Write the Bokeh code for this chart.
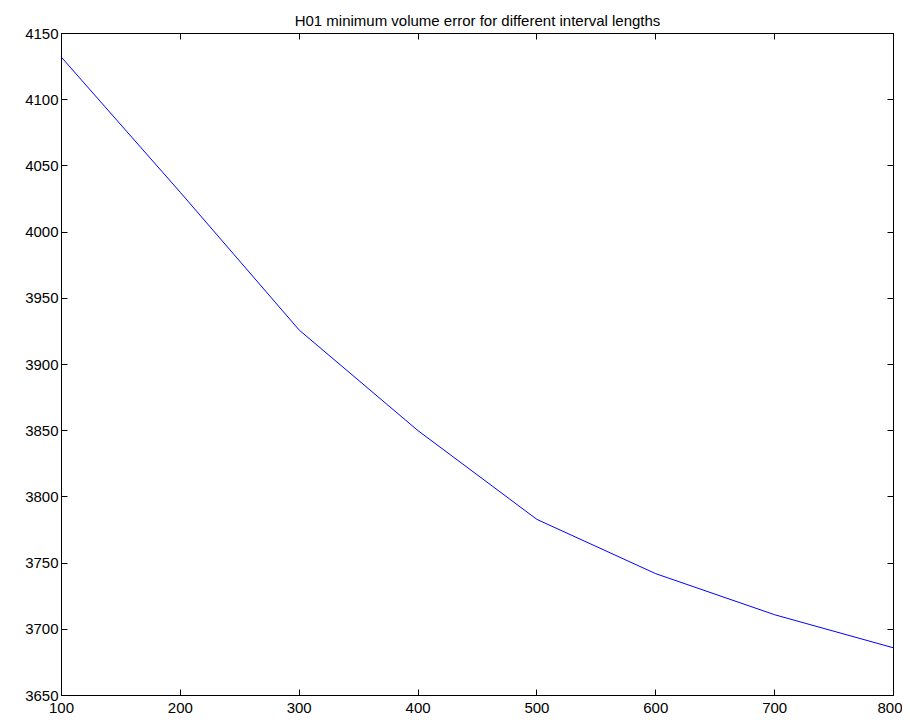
from bokeh.plotting import figure
from bokeh.models import Range1d, LinearAxis, FixedTicker
from bokeh.embed import file_html
from bokeh.resources import INLINE

interval_lengths = [100, 200, 300, 400, 500, 600, 700, 800]
min_volume_error = [4132, 4030, 3926, 3850, 3783, 3742, 3711, 3686]
x_ticks = [100, 200, 300, 400, 500, 600, 700, 800]
y_ticks = [3650, 3700, 3750, 3800, 3850, 3900, 3950, 4000, 4050, 4100, 4150]

FONT = "Liberation Sans"

p = figure(width=902, height=720, output_backend="svg", toolbar_location=None,
           x_range=Range1d(100, 800), y_range=Range1d(3650, 4150),
           title="H01 minimum volume error for different interval lengths",
           min_border_left=61, min_border_right=9, min_border_top=33, min_border_bottom=25)

p.title.align = "center"
p.title.text_font = FONT
p.title.text_font_size = "15px"
p.title.text_font_style = "normal"
p.title.text_color = "black"
p.title.standoff = 10

p.xgrid.visible = False
p.ygrid.visible = False
p.outline_line_color = "black"
p.outline_line_width = 1
p.background_fill_color = "white"
p.border_fill_color = "white"

p.line(interval_lengths, min_volume_error, line_color="#0000ff", line_width=1)

def style_axis(ax, ticks, show_labels=True, standoff=4):
    ax.ticker = FixedTicker(ticks=ticks)
    ax.major_tick_in = 6
    ax.major_tick_out = 0
    ax.minor_tick_line_color = None
    ax.axis_line_color = "black"
    ax.major_tick_line_color = "black"
    ax.major_label_text_font = FONT
    ax.major_label_text_font_size = "15px"
    ax.major_label_text_color = "black"
    ax.major_label_standoff = standoff
    if not show_labels:
        ax.major_label_text_color = None

style_axis(p.xaxis[0], x_ticks, standoff=7)
style_axis(p.yaxis[0], y_ticks, standoff=3)

top_ax = LinearAxis()
style_axis(top_ax, x_ticks, show_labels=False)
top_ax.major_label_text_font_size = "0px"
top_ax.major_label_standoff = 0
p.add_layout(top_ax, "above")

right_ax = LinearAxis()
style_axis(right_ax, y_ticks, show_labels=False)
right_ax.major_label_text_font_size = "0px"
right_ax.major_label_standoff = 0
p.add_layout(right_ax, "right")

open("out.html", "w").write(file_html(p, INLINE))
